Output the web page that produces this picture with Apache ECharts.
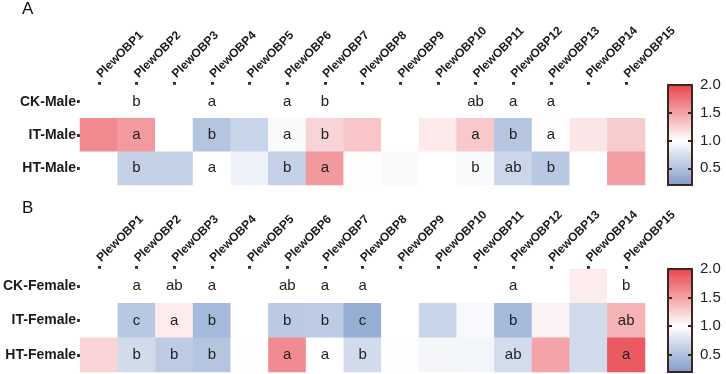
<!DOCTYPE html>
<html><head><meta charset="utf-8">
<script src="https://cdn.jsdelivr.net/npm/echarts@6/dist/echarts.min.js"></script>
<style>html,body{margin:0;padding:0;background:#fff}#c{width:726px;height:374px}</style>
</head><body><div id="c"></div>
<script>
const genes = ['PlewOBP1','PlewOBP2','PlewOBP3','PlewOBP4','PlewOBP5','PlewOBP6','PlewOBP7','PlewOBP8','PlewOBP9','PlewOBP10','PlewOBP11','PlewOBP12','PlewOBP13','PlewOBP14','PlewOBP15'];
const maleGroups = ['CK-Male','IT-Male','HT-Male'];
const femaleGroups = ['CK-Female','IT-Female','HT-Female'];

const ckMale = [1,1,1,1,1,1,1,1,1,1,1,1,1,1,1];
const itMale = [1.63,1.54,1,0.53,0.66,0.96,1.23,1.31,1,1.12,1.30,0.54,1.01,1.14,1.28];
const htMale = [1,0.62,0.62,1,0.90,0.62,1.55,1.01,0.96,1,0.96,0.67,0.55,1,1.52];
const ckMaleLetters = ['','b','','a','','a','b','','','','ab','a','a','',''];
const itMaleLetters = ['','a','','b','','a','b','','','','a','b','a','',''];
const htMaleLetters = ['','b','','a','','b','a','','','','b','ab','b','',''];

const ckFemale = [1,1,1,1,1,1,1,1,1,1,1,1,1,1.10,1];
const itFemale = [1,0.55,1.10,0.43,1,0.57,0.58,0.35,1,0.66,0.95,0.43,1.07,0.71,1.41];
const htFemale = [1.24,0.71,0.58,0.53,1.01,1.62,1,0.71,0.99,0.93,0.92,0.72,1.49,0.71,1.89];
const ckFemaleLetters = ['','a','ab','a','','ab','a','a','','','','a','','','b'];
const itFemaleLetters = ['','c','a','b','','b','b','c','','','','b','','','ab'];
const htFemaleLetters = ['','b','b','b','','a','a','b','','','','ab','','','a'];

const scaleMin = 0.2, scaleMax = 2.0;
const scaleLabels = [0.5, 1.0, 1.5, 2.0];
const scaleInnerTicks = [0.5, 1.0, 1.5];

const rampColors = ['#819dcb','#a0b5d8','#c0cde5','#dfe6f2','#ffffff','#fadadc','#f6b5b8','#f18f95','#ed6a71','#e8454e'];

function cells(rows, letters) {
  const out = [];
  rows.forEach((row, r) => row.forEach((v, c) => out.push([c, r, v, letters[r][c]])));
  return out;
}
const maleData = cells([ckMale, itMale, htMale], [ckMaleLetters, itMaleLetters, htMaleLetters]);
const femaleData = cells([ckFemale, itFemale, htFemale], [ckFemaleLetters, itFemaleLetters, htFemaleLetters]);

const FONT = 'Liberation Sans, Arial, sans-serif';
const tickStyle = {show: true, alignWithLabel: true, length: 3, lineStyle: {width: 3, color: '#3a281e'}};

function geneAxis(gi) {
  return {type: 'category', gridIndex: gi, data: genes, position: 'top',
    axisLine: {show: false}, axisTick: tickStyle, splitLine: {show: false},
    axisLabel: {rotate: -45, interval: 0, fontSize: 12, fontWeight: 'bold', fontFamily: FONT, color: '#1a1a1a', margin: 9}};
}
function groupAxis(gi, groups) {
  return {type: 'category', gridIndex: gi, data: groups, inverse: true,
    axisLine: {show: false}, axisTick: tickStyle, splitLine: {show: false},
    axisLabel: {fontSize: 14, fontWeight: 'bold', fontFamily: FONT, color: '#1a1a1a', margin: 4}};
}
function barAxes(gi) {
  const common = {type: 'value', gridIndex: gi, min: scaleMin, max: scaleMax, z: 10,
    axisLine: {show: false}, splitLine: {show: false}};
  return [
    Object.assign({}, common, {position: 'left',
      axisTick: {show: true, inside: true, length: 4, lineStyle: {width: 2, color: '#3a281e'}, customValues: scaleInnerTicks},
      axisLabel: {show: false}}),
    Object.assign({}, common, {position: 'right',
      axisTick: {show: true, inside: true, length: 4, lineStyle: {width: 2, color: '#3a281e'}, customValues: scaleInnerTicks},
      axisLabel: {show: true, customValues: scaleLabels, formatter: v => v.toFixed(1), fontSize: 15, fontFamily: FONT, color: '#222', margin: 8}})
  ];
}
function heat(xi, yi, data) {
  return {type: 'heatmap', xAxisIndex: xi, yAxisIndex: yi, data: data,
    label: {show: true, formatter: p => p.data[3], fontSize: 15, fontFamily: FONT, color: '#222'},
    itemStyle: {borderWidth: 0}, emphasis: {disabled: true}};
}
function vmap(si, top, h) {
  return {type: 'continuous', seriesIndex: si, dimension: 2, min: scaleMin, max: scaleMax,
    calculable: false, hoverLink: false, orient: 'vertical', left: 668, top: top,
    itemWidth: 24, itemHeight: h, padding: 0, inRange: {color: rampColors}};
}
const barGrid = (top, h) => ({left: 668, top: top, width: 24, height: h, show: true, z: 10,
  borderColor: '#3a281e', borderWidth: 2, backgroundColor: 'transparent'});

const chart = echarts.init(document.getElementById('c'));
chart.setOption({
  animation: false,
  title: [
    {text: 'A', left: 22, top: 1, padding: 0, textStyle: {fontSize: 17, fontWeight: 'normal', fontFamily: FONT, color: '#111'}},
    {text: 'B', left: 22, top: 200, padding: 0, textStyle: {fontSize: 17, fontWeight: 'normal', fontFamily: FONT, color: '#111'}}
  ],
  grid: [
    {left: 80, top: 85, width: 565, height: 100},
    {left: 80, top: 269, width: 565, height: 103},
    barGrid(85, 100),
    barGrid(269, 103)
  ],
  xAxis: [geneAxis(0), geneAxis(1),
    {type: 'value', gridIndex: 2, show: false, min: 0, max: 1},
    {type: 'value', gridIndex: 3, show: false, min: 0, max: 1}],
  yAxis: [groupAxis(0, maleGroups), groupAxis(1, femaleGroups)].concat(barAxes(2), barAxes(3)),
  visualMap: [vmap(0, 85, 100), vmap(1, 269, 103)],
  series: [heat(0, 0, maleData), heat(1, 1, femaleData),
    {type: 'scatter', xAxisIndex: 2, yAxisIndex: 2, data: []},
    {type: 'scatter', xAxisIndex: 3, yAxisIndex: 4, data: []}]
});
</script></body></html>
